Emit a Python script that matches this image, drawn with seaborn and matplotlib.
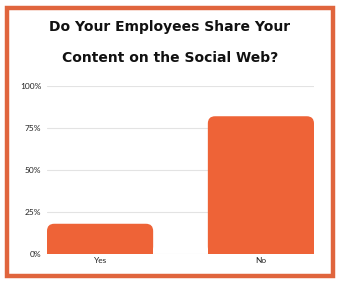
import matplotlib
matplotlib.use("Agg")
import matplotlib.pyplot as plt
import seaborn as sns
import pandas as pd
from matplotlib.patches import FancyBboxPatch, Rectangle
from matplotlib.ticker import PercentFormatter

categories = ["Yes", "No"]
values = [18, 82]
yticks = [0, 25, 50, 75, 100]

sns.set_theme(style="white")
plt.rcParams['font.family'] = ['Lato', 'DejaVu Sans']

df = pd.DataFrame({"answer": categories, "pct": values})
fig = plt.figure(figsize=(3.4, 2.84), dpi=100)
ax = fig.add_axes([47/340, 1-254/284, (314-47)/340, (254-86)/284])
bar_color = "#EE6337"
sns.barplot(data=df, x="answer", y="pct", color=bar_color, width=0.66, ax=ax, saturation=1)

# round the top corners of bars
for p in list(ax.patches):
    x, y = p.get_x(), p.get_y()
    w, h = p.get_width(), p.get_height()
    p.set_visible(False)
    fb = FancyBboxPatch((x, y), w, h, boxstyle="round,pad=0,rounding_size=0.045",
                        mutation_aspect=100 / (254-86) * (267/1.66),
                        facecolor=bar_color, edgecolor="none", zorder=3)
    ax.add_patch(fb)
    ax.add_patch(Rectangle((x, y), w, min(h, 5), facecolor=bar_color, edgecolor="none", zorder=3))

ax.set_xlim(-0.33, 1.33)
ax.set_ylim(0, 100)
ax.set_yticks(yticks)
ax.yaxis.set_major_formatter(PercentFormatter(decimals=0))
ax.grid(axis="y", color="#e3e3e3", linewidth=0.8, zorder=0)
ax.set_axisbelow(True)
for s in ax.spines.values():
    s.set_visible(False)
ax.set_xlabel("")
ax.set_ylabel("")
ax.tick_params(axis="both", labelsize=6, length=0, pad=2, colors="#222222")
ax.tick_params(axis="y", pad=4)

title_font = ['DejaVu Sans']
fig.text(0.5, 1-27/284, "Do Your Employees Share Your", ha="center", va="center",
         fontsize=10, fontweight="bold", color="#111111", family=title_font)
fig.text(0.5, 1-58/284, "Content on the Social Web?", ha="center", va="center",
         fontsize=10, fontweight="bold", color="#111111", family=title_font)

border = Rectangle((7/340, 1-276/284), (333-7)/340, (276-8)/284, transform=fig.transFigure,
                   fill=False, edgecolor="#E0653D", linewidth=3.2)
fig.patches.append(border)

fig.savefig("out.png", dpi=100, facecolor="white")
